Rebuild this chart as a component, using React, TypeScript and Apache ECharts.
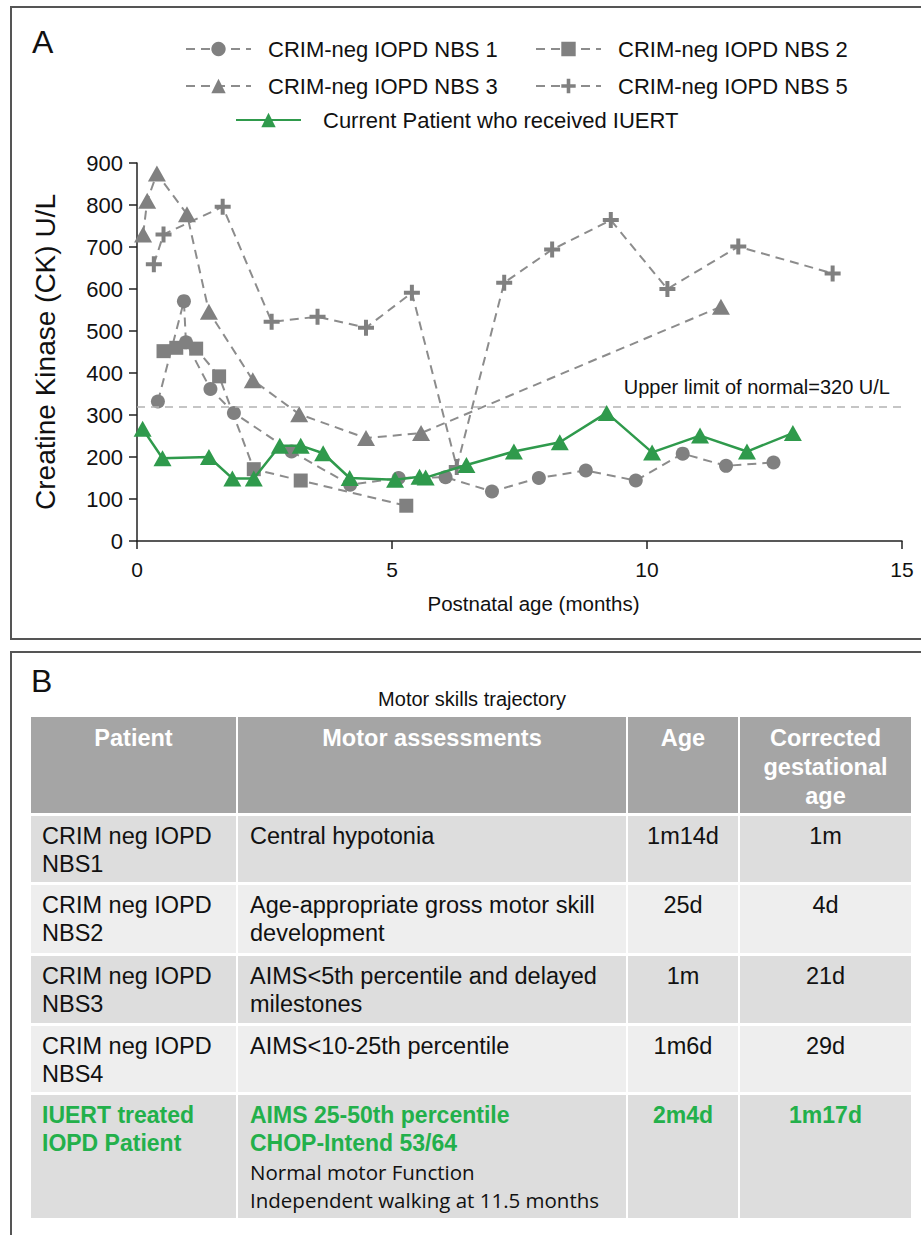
import React, { useEffect, useRef } from "react";
import * as echarts from "echarts";

// ---------- Panel A data (CK, U/L vs postnatal age, months) ----------
const seriesNames = [
  "CRIM-neg IOPD NBS 1",
  "CRIM-neg IOPD NBS 2",
  "CRIM-neg IOPD NBS 3",
  "CRIM-neg IOPD NBS 5",
  "Current Patient who received IUERT",
];

const nbs1: number[][] = [
  [0.41, 332], [0.92, 571], [0.96, 473], [1.44, 362], [1.9, 305], [3.03, 213],
  [4.18, 134], [5.13, 150], [6.05, 152], [6.96, 118], [7.88, 150], [8.8, 168],
  [9.78, 144], [10.7, 208], [11.55, 179], [12.48, 187],
];
const nbs2: number[][] = [
  [0.52, 452], [0.77, 460], [1.16, 458], [1.61, 392], [2.29, 171], [3.21, 144], [5.28, 84],
];
const nbs3: number[][] = [
  [0.12, 730], [0.2, 810], [0.39, 875], [0.98, 778], [1.41, 546], [2.27, 383],
  [3.18, 302], [4.49, 245], [5.57, 257], [11.45, 558],
];
const nbs5: number[][] = [
  [0.33, 659], [0.52, 730], [1.68, 796], [2.64, 522], [3.54, 534], [4.49, 508],
  [5.39, 591], [6.27, 176], [7.2, 615], [8.14, 694], [9.29, 764], [10.4, 600],
  [11.79, 701], [13.64, 637],
];
const patient: number[][] = [
  [0.11, 267], [0.5, 197], [1.41, 200], [1.87, 149], [2.29, 149], [2.8, 227],
  [3.21, 227], [3.65, 209], [4.17, 150], [5.06, 146], [5.54, 153], [5.66, 151],
  [6.46, 181], [7.39, 213], [8.29, 235], [9.21, 305], [10.1, 211], [11.04, 251],
  [11.96, 213], [12.86, 257],
];

const upperLimit = 320;
const upperLimitLabel = "Upper limit of normal=320 U/L";
const xAxisTitle = "Postnatal age (months)";
const yAxisTitle = "Creatine Kinase (CK) U/L";

// ---------- Panel B table ----------
const tableTitle = "Motor skills trajectory";
const tableHeader = ["Patient", "Motor assessments", "Age", "Corrected\ngestational\nage"];
const tablePatients = [
  "CRIM neg IOPD\nNBS1",
  "CRIM neg IOPD\nNBS2",
  "CRIM neg IOPD\nNBS3",
  "CRIM neg IOPD\nNBS4",
  "IUERT treated\nIOPD Patient",
];
const tableAssessments = [
  "Central hypotonia",
  "Age-appropriate gross motor skill\ndevelopment",
  "AIMS<5th percentile and delayed\nmilestones",
  "AIMS<10-25th percentile",
  "AIMS 25-50th percentile\nCHOP-Intend 53/64",
];
const tableAssessmentExtra = ["Normal motor Function", "Independent walking at 11.5 months"];
const tableAges = ["1m14d", "25d", "1m", "1m6d", "2m4d"];
const tableCorrected = ["1m", "4d", "21d", "29d", "1m17d"];
const highlightRow = 4;

const FONT = "'Liberation Sans', Arial, Helvetica, sans-serif";
const GREEN = "#2f9a4c";
const TABLE_GREEN = "#23b04b";
const GRAY_MARK = "#808080";
const PLUS_PATH = "path://M6,0H10V6H16V10H10V16H6V10H0V6H6Z";

export default function App() {
  const ref = useRef<HTMLDivElement>(null);

  useEffect(() => {
    document.body.style.margin = "0";
    if (!ref.current) return;
    const chart = echarts.init(ref.current, undefined, { renderer: "svg" });

    const grayLine = { color: "#8c8c8c", width: 2, type: [9, 6] as any };

    const mkLegend = (name: string, left: number, top: number, pad: number) => ({
      data: [name],
      left,
      top,
      padding: 0,
      itemWidth: 65,
      itemHeight: 18,
      selectedMode: false,
      textStyle: { fontSize: 22, color: "#111", fontFamily: FONT, padding: [0, 0, 0, pad] },
    });

    // table graphics
    const colX = [31, 238, 628, 740];
    const colW = [205, 388, 110, 171];
    const rowTop = [717, 816, 885, 956, 1026, 1095];
    const rowBottom = [813, 882, 953, 1023, 1092, 1218];
    const lineH = 28;
    const g: any[] = [];

    // panel borders
    g.push({ type: "rect", shape: { x: 11, y: 7, width: 930, height: 632 }, style: { fill: "none", stroke: "#555", lineWidth: 2 } });
    g.push({ type: "rect", shape: { x: 11, y: 652, width: 930, height: 620 }, style: { fill: "none", stroke: "#555", lineWidth: 2 } });
    g.push({ type: "text", x: 32, y: 26, style: { text: "A", font: `32px ${FONT}`, fill: "#111" } });
    g.push({ type: "text", x: 31, y: 665, style: { text: "B", font: `32px ${FONT}`, fill: "#111" } });
    g.push({
      type: "text", x: 472, y: 689,
      style: { text: tableTitle, font: `20px ${FONT}`, fill: "#111", textAlign: "center" },
    });

    for (let r = 0; r < 6; r++) {
      for (let c = 0; c < 4; c++) {
        const fill = r === 0 ? "#a5a5a5" : r % 2 === 1 ? "#dddddd" : "#eeeeee";
        g.push({
          type: "rect",
          shape: { x: colX[c], y: rowTop[r], width: colW[c], height: rowBottom[r] - rowTop[r] },
          style: { fill },
        });
      }
    }
    // header text
    tableHeader.forEach((t, c) => {
      g.push({
        type: "text",
        x: colX[c] + colW[c] / 2,
        y: 737 - 14,
        style: {
          text: t, font: `bold 23.5px ${FONT}`, fill: "#ffffff", textAlign: "center",
          textVerticalAlign: "top", lineHeight: 29,
        },
      });
    });
    // body
    for (let i = 0; i < tablePatients.length; i++) {
      const top = rowTop[i + 1] + 20 - lineH / 2;
      const hl = i === highlightRow;
      const color = hl ? TABLE_GREEN : "#111";
      const font = hl ? `bold 23px ${FONT}` : `23.5px ${FONT}`;
      const cells = [tablePatients[i], tableAssessments[i], tableAges[i], tableCorrected[i]];
      cells.forEach((t, c) => {
        const centered = c >= 2;
        g.push({
          type: "text",
          x: centered ? colX[c] + colW[c] / 2 : colX[c] + (c === 0 ? 11 : 12),
          y: top,
          style: {
            text: t, font, fill: color, textAlign: centered ? "center" : "left",
            textVerticalAlign: "top", lineHeight: lineH,
          },
        });
      });
      if (hl) {
        g.push({
          type: "text",
          x: colX[1] + 12,
          y: top + 2 * lineH + 1,
          style: {
            text: tableAssessmentExtra.join("\n"),
            font: `20.5px 'Open Sans', 'Noto Sans', sans-serif`,
            fill: "#111", textAlign: "left", textVerticalAlign: "top", lineHeight: 28,
          },
        });
      }
    }

    const option: any = {
      animation: false,
      textStyle: { fontFamily: FONT },
      grid: { left: 137, top: 163, width: 765, height: 378 },
      legend: [
        mkLegend(seriesNames[0], 185, 38, 12),
        mkLegend(seriesNames[1], 535, 38, 12),
        mkLegend(seriesNames[2], 185, 75, 12),
        mkLegend(seriesNames[3], 535, 75, 12),
        mkLegend(seriesNames[4], 235, 109, 17),
      ],
      xAxis: {
        type: "value", min: 0, max: 15, interval: 5,
        axisLine: { show: true, onZero: false, lineStyle: { color: "#222", width: 1.5 } },
        axisTick: { show: true, length: 8, lineStyle: { color: "#222", width: 1.5 } },
        axisLabel: { fontSize: 21, color: "#111", margin: 18 },
        splitLine: { show: false },
        name: xAxisTitle, nameLocation: "middle", nameGap: 52,
        nameTextStyle: { fontSize: 20.5, color: "#111", padding: [0, 0, 0, 28] },
      },
      yAxis: {
        type: "value", min: 0, max: 900, interval: 100,
        axisLine: { show: true, onZero: false, lineStyle: { color: "#222", width: 1.5 } },
        axisTick: { show: true, length: 8, lineStyle: { color: "#222", width: 1.5 } },
        axisLabel: { fontSize: 22, color: "#111", margin: 14 },
        splitLine: { show: false },
        name: yAxisTitle, nameLocation: "middle", nameGap: 78,
        nameTextStyle: { fontSize: 28, color: "#111" },
      },
      graphic: g,
      series: [
        {
          name: seriesNames[0], type: "line", data: nbs1, symbol: "circle", symbolSize: 14,
          itemStyle: { color: GRAY_MARK }, lineStyle: grayLine, z: 2,
          markLine: {
            silent: true, symbol: ["none", "none"],
            lineStyle: { color: "#b3b3b3", width: 1.5, type: [8, 6] },
            label: {
              show: true, position: "insideEndTop", formatter: upperLimitLabel,
              fontSize: 20, color: "#111", distance: [12, 10],
            },
            data: [{ yAxis: upperLimit }],
          },
        },
        {
          name: seriesNames[1], type: "line", data: nbs2, symbol: "rect", symbolSize: 14,
          itemStyle: { color: GRAY_MARK }, lineStyle: grayLine, z: 2,
        },
        {
          name: seriesNames[2], type: "line", data: nbs3, symbol: "triangle", symbolSize: [18, 16],
          itemStyle: { color: GRAY_MARK }, lineStyle: grayLine, z: 2,
        },
        {
          name: seriesNames[3], type: "line", data: nbs5, symbol: PLUS_PATH, symbolSize: 16,
          itemStyle: { color: GRAY_MARK }, lineStyle: grayLine, z: 2,
        },
        {
          name: seriesNames[4], type: "line", data: patient, symbol: "triangle", symbolSize: [18, 16],
          itemStyle: { color: GREEN }, lineStyle: { color: GREEN, width: 2.5, type: "solid" }, z: 5,
        },
      ],
    };
    chart.setOption(option);
    return () => chart.dispose();
  }, []);

  return <div ref={ref} style={{ width: 921, height: 1235 }} />;
}
